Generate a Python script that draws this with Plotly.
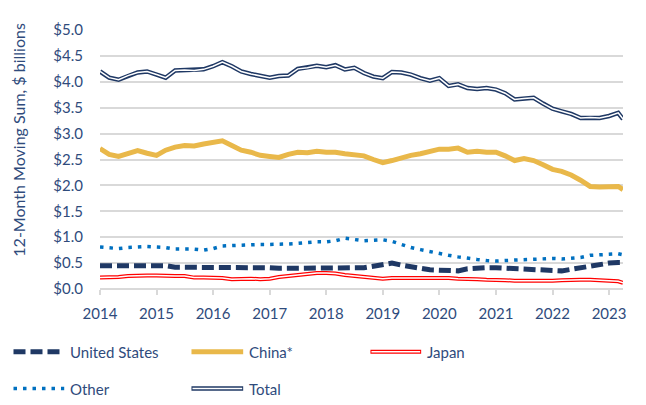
import plotly.graph_objects as go

# ---------------- data (bi-monthly readings, $ billions) ----------------
dates = [
    "2014-01-01", "2014-03-01", "2014-05-01", "2014-07-01", "2014-09-01", "2014-11-01",
    "2015-01-01", "2015-03-01", "2015-05-01", "2015-07-01", "2015-09-01", "2015-11-01",
    "2016-01-01", "2016-03-01", "2016-05-01", "2016-07-01", "2016-09-01", "2016-11-01",
    "2017-01-01", "2017-03-01", "2017-05-01", "2017-07-01", "2017-09-01", "2017-11-01",
    "2018-01-01", "2018-03-01", "2018-05-01", "2018-07-01", "2018-09-01", "2018-11-01",
    "2019-01-01", "2019-03-01", "2019-05-01", "2019-07-01", "2019-09-01", "2019-11-01",
    "2020-01-01", "2020-03-01", "2020-05-01", "2020-07-01", "2020-09-01", "2020-11-01",
    "2021-01-01", "2021-03-01", "2021-05-01", "2021-07-01", "2021-09-01", "2021-11-01",
    "2022-01-01", "2022-03-01", "2022-05-01", "2022-07-01", "2022-09-01", "2022-11-01",
    "2023-01-01", "2023-03-01", "2023-04-01",
]

united_states = [
    0.45, 0.45, 0.45, 0.46, 0.46, 0.47,
    0.47, 0.45, 0.42, 0.42, 0.43, 0.43,
    0.42, 0.42, 0.43, 0.43, 0.43, 0.43,
    0.41, 0.40, 0.40, 0.41, 0.41, 0.41,
    0.41, 0.40, 0.39, 0.40, 0.41, 0.44,
    0.47, 0.50, 0.46, 0.42, 0.40, 0.37,
    0.36, 0.35, 0.35, 0.39, 0.41, 0.41,
    0.41, 0.40, 0.38, 0.38, 0.37, 0.35,
    0.34, 0.35, 0.38, 0.41, 0.45, 0.48,
    0.50, 0.51, 0.51,
]

china = [
    2.71, 2.60, 2.56, 2.62, 2.67, 2.62,
    2.58, 2.68, 2.74, 2.77, 2.76, 2.80,
    2.84, 2.86, 2.77, 2.68, 2.64, 2.58,
    2.56, 2.54, 2.60, 2.64, 2.63, 2.66,
    2.64, 2.64, 2.61, 2.58, 2.57, 2.50,
    2.44, 2.48, 2.54, 2.58, 2.61, 2.65,
    2.70, 2.70, 2.72, 2.64, 2.66, 2.64,
    2.64, 2.57, 2.48, 2.52, 2.48, 2.40,
    2.31, 2.27, 2.20, 2.10, 1.98, 1.97,
    1.97, 1.98, 1.92,
]

japan = [
    0.22, 0.22, 0.23, 0.25, 0.26, 0.26,
    0.26, 0.25, 0.25, 0.25, 0.22, 0.22,
    0.22, 0.21, 0.19, 0.20, 0.20, 0.19,
    0.20, 0.23, 0.25, 0.27, 0.29, 0.31,
    0.31, 0.30, 0.27, 0.25, 0.24, 0.22,
    0.20, 0.21, 0.21, 0.21, 0.21, 0.22,
    0.21, 0.21, 0.20, 0.20, 0.19, 0.18,
    0.18, 0.17, 0.16, 0.16, 0.15, 0.15,
    0.16, 0.17, 0.18, 0.18, 0.18, 0.17,
    0.16, 0.15, 0.12,
]

other = [
    0.81, 0.79, 0.78, 0.80, 0.81, 0.82,
    0.81, 0.80, 0.77, 0.77, 0.77, 0.75,
    0.78, 0.83, 0.84, 0.85, 0.85, 0.86,
    0.86, 0.86, 0.87, 0.88, 0.90, 0.91,
    0.91, 0.93, 0.98, 0.96, 0.93, 0.94,
    0.95, 0.92, 0.86, 0.80, 0.76, 0.72,
    0.69, 0.65, 0.62, 0.59, 0.57, 0.55,
    0.54, 0.55, 0.56, 0.57, 0.58, 0.59,
    0.59, 0.58, 0.59, 0.61, 0.65, 0.66,
    0.68, 0.68, 0.66,
]

total = [
    4.20, 4.08, 4.04, 4.12, 4.18, 4.20,
    4.14, 4.08, 4.22, 4.23, 4.22, 4.24,
    4.30, 4.38, 4.30, 4.20, 4.15, 4.12,
    4.08, 4.11, 4.12, 4.25, 4.27, 4.31,
    4.28, 4.32, 4.24, 4.27, 4.17, 4.10,
    4.07, 4.19, 4.18, 4.14, 4.07, 4.02,
    4.07, 3.92, 3.95, 3.88, 3.86, 3.88,
    3.85, 3.78, 3.66, 3.68, 3.69, 3.58,
    3.48, 3.43, 3.38, 3.30, 3.31, 3.30,
    3.34, 3.40, 3.28,
]

year_ticks = ["2014", "2015", "2016", "2017", "2018", "2019", "2020", "2021", "2022", "2023"]
y_ticks = [0.0, 0.5, 1.0, 1.5, 2.0, 2.5, 3.0, 3.5, 4.0, 4.5, 5.0]
y_tick_labels = ["$0.0", "$0.5", "$1.0", "$1.5", "$2.0", "$2.5",
                 "$3.0", "$3.5", "$4.0", "$4.5", "$5.0"]

# ---------------- styles ----------------
NAVY = "#1F3864"
TEXT = "#2F4B7C"
GOLD = "#E9B84A"
BLUE = "#0070C0"
RED = "#FF0000"
GRID = "#D9D9D9"
FONT = "Lato, Carlito, Calibri, sans-serif"
US_DASH = "12px,5px"
DOT_DASH = "3.5px,6px"

OFF = 8                      # page body margin
W, H = 646 - 2 * OFF, 405 - 2 * OFF
PLOT_L, PLOT_R, PLOT_T, PLOT_B = 100, 626, 21, 289   # in screenshot pixels
ML, MT = PLOT_L - OFF, PLOT_T - OFF
MR = W - (PLOT_R - OFF)
MB = H - (PLOT_B - OFF)
PW, PH = PLOT_R - PLOT_L, PLOT_B - PLOT_T

fig = go.Figure()

def line(x, y, color, width, dash="solid"):
    fig.add_trace(go.Scatter(x=x, y=y, mode="lines", showlegend=False, hoverinfo="skip",
                             line=dict(color=color, width=width, dash=dash)))

line(dates, china, GOLD, 5)
line(dates, total, NAVY, 4.5)
line(dates, total, "white", 1.5)
line(dates, other, BLUE, 3.5, DOT_DASH)
line(dates, japan, RED, 4)
line(dates, japan, "white", 1.5)
line(dates, united_states, NAVY, 5, US_DASH)

# ---------------- manual legend (screenshot pixel -> paper) ----------------
def xp(px):
    return (px - PLOT_L) / PW

def yp(py):
    return (PLOT_B - py) / PH

shapes = []
annotations = []

def legend_item(x0, x1, py, label, color, width, dash="solid", inner=None):
    shapes.append(dict(type="line", xref="paper", yref="paper", x0=xp(x0), x1=xp(x1),
                       y0=yp(py), y1=yp(py), line=dict(color=color, width=width, dash=dash)))
    if inner:
        shapes.append(dict(type="line", xref="paper", yref="paper", x0=xp(x0 + 1), x1=xp(x1 - 1),
                           y0=yp(py), y1=yp(py), line=dict(color=inner, width=1.5)))
    annotations.append(dict(text=label, xref="paper", yref="paper", x=xp(x1 + 4), y=yp(py),
                            xanchor="left", yanchor="middle", showarrow=False,
                            font=dict(family=FONT, size=15, color=TEXT)))

legend_item(13, 64, 354, "United States", NAVY, 5, US_DASH)
legend_item(192, 244, 354, "China*", GOLD, 5)
legend_item(372, 423, 354, "Japan", RED, 4, inner="white")
legend_item(13, 64, 392, "Other", BLUE, 3.5, DOT_DASH)
legend_item(192, 244, 392, "Total", NAVY, 4.5, inner="white")

annotations.append(dict(text="12-Month Moving Sum, $ billions", xref="paper", yref="paper",
                        x=xp(18), y=yp(134), xanchor="center", yanchor="middle",
                        textangle=-90, showarrow=False,
                        font=dict(family=FONT, size=16, color=TEXT)))

fig.update_layout(
    width=W, height=H,
    margin=dict(l=ML, r=MR, t=MT, b=MB, pad=0),
    paper_bgcolor="white", plot_bgcolor="white",
    showlegend=False,
    shapes=shapes, annotations=annotations,
    font=dict(family=FONT, size=15, color=TEXT),
    xaxis=dict(
        type="date", range=[dates[0], dates[-1]],
        tickvals=[f"{y}-01-01" for y in year_ticks], ticktext=year_ticks,
        showgrid=False, zeroline=False, showline=False,
        ticks="outside", ticklen=5, tickwidth=1.5, tickcolor=GRID,
        ticklabelstandoff=6,
        tickfont=dict(family=FONT, size=15, color=TEXT),
    ),
    yaxis=dict(
        range=[0, 5], tickvals=y_ticks, ticktext=y_tick_labels,
        showgrid=True, gridcolor=GRID, gridwidth=1.5,
        zeroline=True, zerolinecolor=GRID, zerolinewidth=1.5,
        showline=False, ticks="", ticklabelstandoff=16,
        tickfont=dict(family=FONT, size=15, color=TEXT),
    ),
)

fig.write_html("out.html")
